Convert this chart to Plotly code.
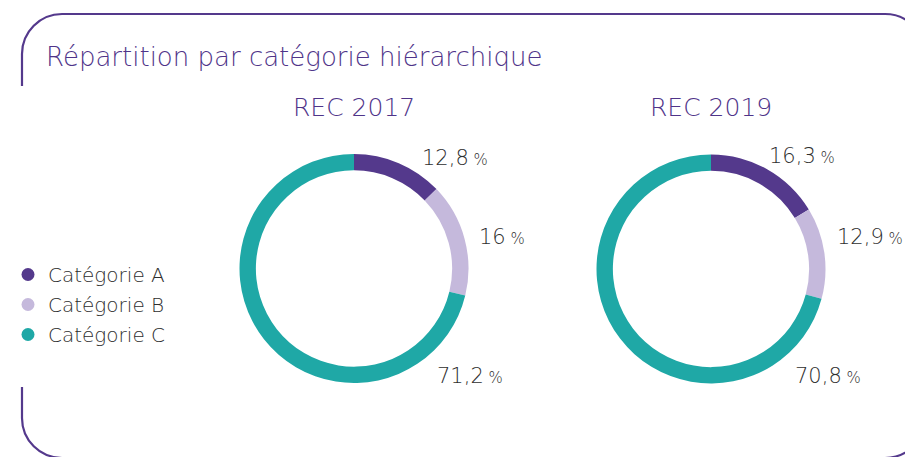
import plotly.graph_objects as go

W, H = 913, 457
OFF = 8  # page body margin offset of the rendered figure

# ---- data ----
categories = ["Catégorie A", "Catégorie B", "Catégorie C"]
years = ["REC 2017", "REC 2019"]
values_2017 = [12.8, 16, 71.2]
values_2019 = [16.3, 12.9, 70.8]
series = [values_2017, values_2019]

# ---- style ----
colors = ["#54398c", "#c5b9dc", "#1fa8a6"]
purple = "#4f3489"
grey = "#2e2e2e"
FONT = "DejaVu Sans"

# pie centres / radius in screen pixels (layout)
centres = [(354, 268.5), (711, 269)]
radius = 114.5
hole = 0.857
# label anchor positions (left x, middle y) per pie, per category
label_pos = [
    [(420, 158), (477, 237), (435, 376)],
    [(767, 156), (835, 237), (793, 376)],
]


def px(x):
    return (x - OFF) / W


def py(y):
    return 1 - (y - OFF) / H


def fmt(v):
    return f"{v:g}".replace(".", ",")


fig = go.Figure()

for i, vals in enumerate(series):
    cx, cy = centres[i]
    fig.add_trace(go.Pie(
        labels=categories,
        values=vals,
        hole=hole,
        sort=False,
        direction="clockwise",
        rotation=0,
        marker=dict(colors=colors, line=dict(width=0)),
        textinfo="none",
        hoverinfo="label+percent",
        showlegend=False,
        domain=dict(x=[px(cx - radius), px(cx + radius)],
                    y=[py(cy + radius), py(cy - radius)]),
    ))

# legend entries (circle markers)
for j, cat in enumerate(categories):
    fig.add_trace(go.Scatter(
        x=[None], y=[None], mode="markers", name=cat,
        marker=dict(color=colors[j], size=13, symbol="circle"),
        legendgroup=cat, showlegend=True, hoverinfo="skip",
    ))

annotations = [
    dict(text="Répartition par catégorie hiérarchique", x=px(44), y=py(57),
         xref="paper", yref="paper",
         xanchor="left", yanchor="middle", showarrow=False,
         font=dict(family=FONT, size=26, color=purple, weight=300)),
]
for i, yr in enumerate(years):
    cx, _ = centres[i]
    annotations.append(dict(text=yr, x=px(cx), y=py(107), xref="paper", yref="paper",
                            xanchor="center", yanchor="middle", showarrow=False,
                            font=dict(family=FONT, size=25, color=purple, weight=300)))
    for j, v in enumerate(series[i]):
        lx, ly = label_pos[i][j]
        annotations.append(dict(
            text=f"{fmt(v)}<span style='font-size:15px'> %</span>",
            x=px(lx), y=py(ly), xref="paper", yref="paper",
            xanchor="left", yanchor="middle", showarrow=False,
            font=dict(family=FONT, size=21, color=grey, weight=300)))

# rounded frame (partially clipped)
k = 0.5523
r = 40
L, T, R, B = 22, 14, 925, 458


def P(x, y):
    return f"{px(x):.5f},{py(y):.5f}"


top_path = (f"M {P(L, 86)} L {P(L, T + r)} "
            f"C {P(L, T + r - k * r)} {P(L + r - k * r, T)} {P(L + r, T)} "
            f"L {P(R - r, T)} "
            f"C {P(R - r + k * r, T)} {P(R, T + r - k * r)} {P(R, T + r)} "
            f"L {P(R, B - r)}")
bot_path = (f"M {P(L, 387)} L {P(L, B - r)} "
            f"C {P(L, B - r + k * r)} {P(L + r - k * r, B)} {P(L + r, B)} "
            f"L {P(R - r, B)} "
            f"C {P(R - r + k * r, B)} {P(R, B - r + k * r)} {P(R, B - r)}")

shapes = [
    dict(type="path", path=top_path, xref="paper", yref="paper",
         line=dict(color=colors[0], width=2.2)),
    dict(type="path", path=bot_path, xref="paper", yref="paper",
         line=dict(color=colors[0], width=2.2)),
]

fig.update_layout(
    width=W, height=H,
    margin=dict(l=0, r=0, t=0, b=0),
    paper_bgcolor="white", plot_bgcolor="white",
    xaxis=dict(visible=False), yaxis=dict(visible=False),
    annotations=annotations, shapes=shapes,
    showlegend=True,
    legend=dict(x=px(8), y=py(255), xanchor="left", yanchor="top",
                font=dict(family=FONT, size=20, color=grey, weight=300),
                tracegroupgap=1, bgcolor="rgba(0,0,0,0)"),
)

fig.write_html("out.html")
